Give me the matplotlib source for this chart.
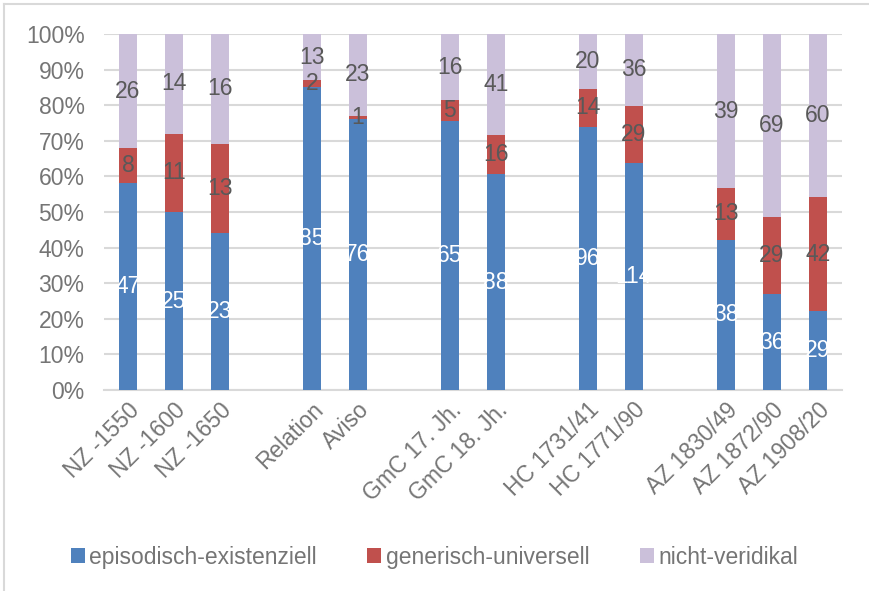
import matplotlib.pyplot as plt
import numpy as np
from matplotlib.lines import Line2D
from matplotlib.ticker import PercentFormatter

plt.rcParams['font.family'] = ['Liberation Sans', 'DejaVu Sans']

categories = ['NZ -1550', 'NZ -1600', 'NZ -1650', 'Relation', 'Aviso',
              'GmC 17. Jh.', 'GmC 18. Jh.', 'HC 1731/41', 'HC 1771/90',
              'AZ 1830/49', 'AZ 1872/90', 'AZ 1908/20']
slots = [0, 1, 2, 4, 5, 7, 8, 10, 11, 13, 14, 15]
episodisch = [47, 25, 23, 85, 76, 65, 88, 96, 114, 38, 36, 29]
generisch = [8, 11, 13, 2, 1, 5, 16, 14, 29, 13, 29, 42]
nicht_ver = [26, 14, 16, 13, 23, 16, 41, 20, 36, 39, 69, 60]
series_names = ['episodisch-existenziell', 'generisch-universell', 'nicht-veridikal']
colors = ['#4F81BD', '#C0504D', '#CBC0DA']
label_colors = ['white', '#595959', '#595959']

counts = np.array([episodisch, generisch, nicht_ver], dtype=float)
shares = counts / counts.sum(axis=0) * 100

fig = plt.figure(figsize=(8.69, 5.91), dpi=100)
ax = fig.add_axes([0.1197, 0.34, 0.849, 0.6025])

# chart border (left and top only visible)
fig.lines.append(Line2D([0.005, 0.005], [0, 0.993], transform=fig.transFigure,
                        color='#d9d9d9', linewidth=1.5))
fig.lines.append(Line2D([0.005, 1], [0.993, 0.993], transform=fig.transFigure,
                        color='#d9d9d9', linewidth=1.5))

x = np.array(slots)
bottom = np.zeros(len(x))
for i in range(3):
    ax.bar(x, shares[i], 0.4, bottom=bottom, color=colors[i], label=series_names[i], zorder=3)
    for xi, b, h, c in zip(x, bottom, shares[i], counts[i]):
        ax.text(xi, b + h / 2, '%d' % c, ha='center', va='center',
                fontsize=16.5, color=label_colors[i], zorder=4)
    bottom += shares[i]

ax.set_ylim(0, 100)
ax.set_xlim(-0.52, 15.52)
ax.set_yticks(np.arange(0, 101, 10))
ax.yaxis.set_major_formatter(PercentFormatter(decimals=0))
ax.set_xticks(x)
ax.set_xticklabels(categories, rotation=45, ha='right', rotation_mode='anchor')
ax.tick_params(axis='both', length=0, labelsize=16.5, labelcolor='#757575')
ax.tick_params(axis='x', pad=6)
ax.tick_params(axis='y', pad=14)
ax.grid(axis='y', color='#d9d9d9', linewidth=1.5, zorder=0)
for s in ['top', 'right', 'left']:
    ax.spines[s].set_visible(False)
ax.spines['bottom'].set_color('#d9d9d9')
ax.spines['bottom'].set_linewidth(1.5)

fig.legend(loc='center', bbox_to_anchor=(0.5, 0.057), ncol=3, frameon=False,
           fontsize=16.5, labelcolor='#757575', handlelength=0.6, handleheight=0.6,
           handletextpad=0.2, columnspacing=2.2)

fig.savefig('out.png', dpi=100)
